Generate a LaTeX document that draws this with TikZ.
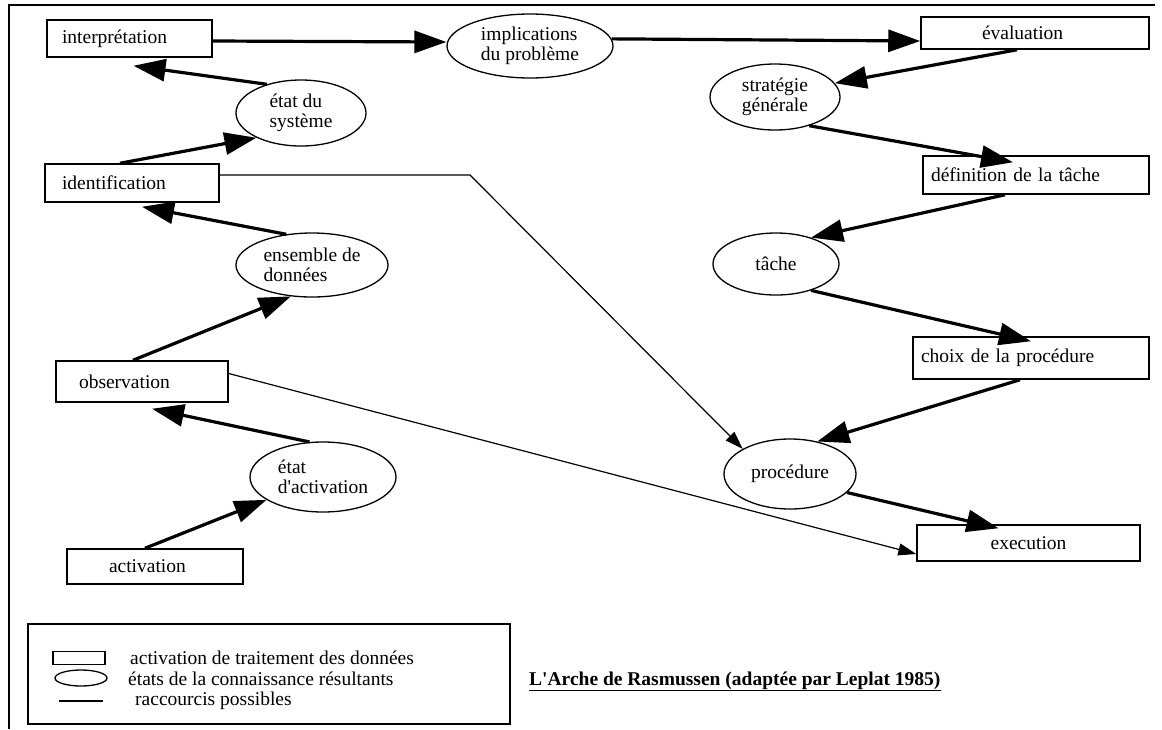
\documentclass[tikz,border=0pt]{standalone}
\usepackage{fontspec}
\newfontfamily\timesfont{Liberation Serif}
\usetikzlibrary{arrows.meta,shapes.geometric}

\begin{document}
\begin{tikzpicture}[x=1pt,y=-1pt,
  traitement/.style={draw,line width=1.5pt,inner ysep=0pt,align=left},
  etat/.style={draw,ellipse,line width=1.3pt,inner sep=0pt,align=left},
  fleche/.style={line width=3.2pt,-{Triangle[length=32pt,width=22pt]}},
  raccourci/.style={line width=1.2pt,-{Triangle[length=18pt,width=12pt]}}]
\timesfont\fontsize{19.5}{20}\selectfont
\useasboundingbox (0,0) rectangle (1162,729);
\draw[line width=1.5pt] (1155,5) -- (9,5) -- (9,729);

\node[traitement,text width=135pt,inner xsep=15pt,minimum height=37pt] (interp) at (129.5,38.5) {interprétation};
\node[traitement,text width=140pt,inner xsep=17pt,minimum height=38pt] (ident) at (132,183) {identification};
\node[traitement,text width=126pt,inner xsep=23pt,minimum height=41pt] (observ) at (142,381.5) {observation};
\node[traitement,text width=92pt,inner xsep=42pt,minimum height=35pt] (activ) at (155,566.5) {activation};
\node[traitement,text width=106pt,inner xsep=61pt,minimum height=32pt] (eval) at (1035,33) {évaluation};
\node[traitement,text width=210pt,inner xsep=8pt,minimum height=38pt] (defin) at (1036,175) {définition de la tâche};
\node[traitement,text width=220pt,inner xsep=8pt,minimum height=42pt] (choix) at (1031,358) {choix de la procédure};
\node[traitement,text width=203pt,inner xsep=10pt,minimum height=36pt,align=center] (exec) at (1028.5,543) {execution};

\node[etat,minimum width=166pt,minimum height=64pt] (impl) at (530,46) {implications\\du problème};
\node[etat,minimum width=130pt,minimum height=66pt] (etatsys) at (301,113) {état du\\système};
\node[etat,minimum width=130pt,minimum height=66pt] (strat) at (775,97) {stratégie\\générale};
\node[etat,minimum width=152pt,minimum height=64pt] (ensemble) at (312,265) {ensemble de\\données};
\node[etat,minimum width=126pt,minimum height=62pt] (tache) at (776,264) {tâche};
\node[etat,minimum width=146pt,minimum height=70pt] (etatact) at (323,477) {état\\d'activation};
\node[etat,minimum width=132pt,minimum height=70pt] (proc) at (790,474) {procédure};

\draw[fleche] ([yshift=-2.5pt]interp.east) -- ([yshift=4pt]impl.west);
\draw[fleche] (impl.5) -- (eval.184.5);
\draw[fleche] ([xshift=-18pt]eval.south) -- (strat.13);
\draw[fleche] (strat.-40) -- ([xshift=-23pt,yshift=-7pt]defin.north);
\draw[fleche] ([xshift=-31pt]defin.south) -- (tache.37);
\draw[fleche] (tache.-37) -- ([yshift=-5pt]choix.north);
\draw[fleche] ([xshift=-11pt]choix.south) -- (proc.50);
\draw[fleche] (proc.-18) -- ([xshift=-30pt,yshift=-4pt]exec.north);
\draw[fleche] (etatsys.140) -- ([xshift=4pt,yshift=-8pt]interp.south);
\draw[fleche] ([xshift=-12pt]ident.north) -- (etatsys.209);
\draw[fleche] (ensemble.130) -- ([xshift=10pt,yshift=-4pt]ident.south);
\draw[fleche] ([xshift=-9pt]observ.north) -- (ensemble.236);
\draw[fleche] (etatact.111) -- ([xshift=10pt,yshift=-6pt]observ.south);
\draw[fleche] ([xshift=-10pt]activ.north) -- (etatact.202);

\coordinate (coude) at (470,175);
\draw[raccourci] ([yshift=8pt]ident.east) -- (coude) -- (proc.152);
\draw[raccourci] ([yshift=8pt]observ.east) -- ([yshift=-11pt]exec.west);

\draw[line width=1.5pt] (28,624) rectangle (510,724);
\node[draw,line width=1.3pt,minimum width=52pt,minimum height=13pt,inner sep=0pt] (legrect) at (79,658) {};
\node[draw,ellipse,line width=1.3pt,minimum width=52pt,minimum height=16pt,inner sep=0pt] (legell) at (81,678) {};
\draw[line width=1.3pt] (59,701) -- (103,701);
\node[anchor=base west,inner sep=0pt] (legtrait) at (130,664) {activation de traitement des données};
\node[anchor=base west,inner sep=0pt] (legetat) at (128,685) {états de la connaissance résultants};
\node[anchor=base west,inner sep=0pt] (legracc) at (135,705) {raccourcis possibles};
\node[anchor=base west,inner sep=0pt,font=\bfseries] (titre) at (529,685) {\underline{L'Arche de Rasmussen (adaptée par Leplat 1985)}};
\end{tikzpicture}
\end{document}
